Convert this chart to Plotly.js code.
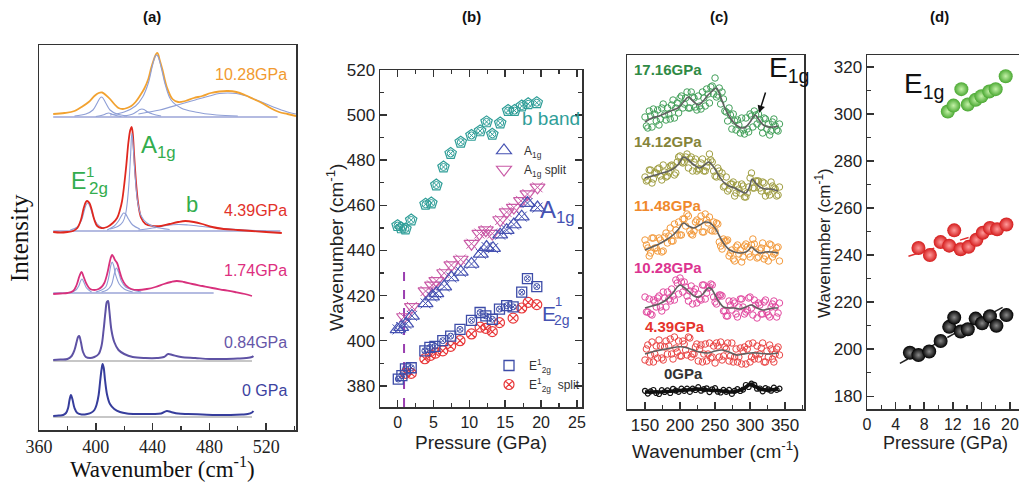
<!DOCTYPE html>
<html><head><meta charset="utf-8">
<script src="https://cdn.plot.ly/plotly-3.0.1.min.js"></script>
<style>html,body{margin:0;padding:0;overflow:hidden;background:#fff}#chart{width:1030px;height:485px}</style>
</head><body><div id="chart"></div>
<script>
// ---------- Panel (a): Raman spectra (offset, heights in arbitrary units) ----------
const a0X = [370,374,377,379,380.5,381.5,382.5,383.5,385,387,390,394,397,399,400.5,402,403,404,404.8,405.6,406.5,408,410,413,417,422,430,440,446,450,453,458,465,475,485,495,503,507,510,511];
const a0Y = [14,14.5,15,17,22,30,35,31,22,17,15.5,16,17.5,20,25,35,48,60,66,62,50,35,26,21,18,16.5,16,16,16.5,19,18,16.5,16,15.5,15,15,15.5,16,17.5,19];
const a084X = [370,375,380,383,385,386.5,387.5,388.3,389.5,391,393,396,399,402,404,405.5,406.8,407.8,408.6,409.5,411,413,416,420,426,435,443,448,451,454,460,470,480,490,500,506,510,511];
const a084Y = [70,70.5,71,74,80,88,93,94,88,78,73,72,73,76,84,100,118,128,129,120,100,88,80,76,73,72,72,73,76,75,73,72,71,71,71.5,72,73,74];
const a174X = [370,375,380,384,386.5,388.5,390,391.5,393.5,396,399,402,404,406,408,409.5,410.5,411.5,412.5,413.5,415,416.5,418.5,421,425,430,436,442,448,453,457,462,468,475,482,490,498,505,510];
const a174Y = [136,136.5,137,139,145,154,158,153,146,141,140,141,143,147,156,166,172,175,173,170,167,160,151,145,141,140,141,143,146,148,149,148,146,144,142,140,138,136,134];
const a439X = [370,375,380,384,387,389.5,391.5,393,394,395.5,397,399,401,404,408,412,415,417,418.5,420,421.5,423,424.3,425.2,426,427,428.5,430,432,435,440,446,452,458,463,469,475,482,490,500,510,520,531];
const a439Y = [198,197.5,198,199,202,210,222,228,229,227,221,210,204,202,203,207,212,220,229,245,265,288,300,303,297,275,245,225,212,206,204,204,206,208,209,208,206,203,201,200,199,198,197];
const a1028X = [370,378,385,390,395,399,402,404.5,407,410,413,416,419,422,425,428,431,434,437,439,441,442.5,443.5,445,447,450,454,458,463,469,475,481,487,493,499,505,511,517,523,529,535,541];
const a1028Y = [316,317,319,323,328,334,337,337.5,335,331,326,322,321,322,324,328,334,341,351,362,371,376,377,370,360,343,331,328,329,332,334,337,338.5,339,338,335,331,327,322,318,316,314];
// fitted components (thin blue)
const fOr1X = [385,393,398,401,403,404,405,407,410,415,422];
const fOr1Y = [314,316,320,327,332,333,332,327,320,316,314];
const fOr2X = [400,405,407.5,409,410.5,413,418];
const fOr2Y = [313.5,315,316.5,317,316.5,315,313.5];
const fOr3X = [420,426,429,431,432.5,434,436,440,446];
const fOr3Y = [314,316,318.5,320.5,321,320.5,318.5,316,314];
const fOr4X = [410,420,428,433,437,440,442,443,444,446,449,453,460,470,485,500];
const fOr4Y = [315,318,324,333,347,365,374,375,373,363,345,330,322,318,315,314];
const fOr5X = [430,445,460,470,480,487,493,499,506,515,525,535,541];
const fOr5Y = [316,320,326,330,334,336.5,337,336.5,334,329,323,318,316];
const fOrBaseX = [370,528];
const fOrBaseY = [313,313];
const fRd1X = [382,387,390,392,393.5,394.5,396,398,401,406];
const fRd1Y = [200,203,210,220,226,227,223,214,206,201];
const fRd2X = [408,413,416,418,419.5,421,423,426,431];
const fRd2Y = [200,204,209,214,217,216,211,205,201];
const fRd3X = [410,416,419,421,423,424.5,425.4,426.3,427.5,429.5,432,436,442,452];
const fRd3Y = [201,204,208,216,240,275,297,285,258,228,214,207,203,200.5];
const fRd4X = [430,440,450,458,465,475,490,505,520];
const fRd4Y = [200,202,204.5,205.5,205,203.5,201.5,200,199];
const fRdBaseX = [370,530];
const fRdBaseY = [199,199];
const fMg1X = [382,386,388,389.3,390.3,391.5,393.5,397];
const fMg1Y = [137.5,140,144,149,151,148,142,138];
const fMg2X = [400,404,407,409,410.5,411.5,412.5,414,416.5,420,426];
const fMg2Y = [138,140,143,152,164,168,165,155,146,141,138];
const fMg3X = [404,408,411,413,414.5,416,418,421,426,432];
const fMg3Y = [138,140,145,156,162,158,149,143,140,138];
const fMgBaseX = [370,483];
const fMgBaseY = [137,137];
const gBase084X = [370,510];
const gBase084Y = [69,69];
const gBase0X = [370,510];
const gBase0Y = [13,13];

// ---------- Panel (b): peak positions vs pressure ----------
const bBandP = [0,0.5,1.1,1.9,3.9,4.7,5.4,6.4,7.4,8.8,10.3,11.5,12.4,13.2,14.3,15.4,16.3,17.3,18.2,19.4];
const bBandW = [451,450,449.5,453.5,460.5,461,469,477,483,488,491,493,497,491.5,496.5,502,502,504,505,505.5];
const a1gP = [0,0.5,1.2,2.0,3.9,4.8,5.4,6.5,7.5,8.8,10.3,11.6,12.4,13.3,14.3,15.2,16.2,17.3,18.1,19.5];
const a1gW = [405,406,407.5,411,416.5,419.5,421,424,428,430.5,434,438.5,441.5,441,447,449,451.5,455,461,459];
const a1gSplitP = [0.9,2.0,3.9,4.8,5.4,6.5,7.5,8.8,10.3,11.4,12.3,13.2,14.3,15.2,16.2,17.2,18.1,19.5];
const a1gSplitW = [410.5,415,422,424.5,426.5,430,433.5,436,443,447.5,449,447.5,453.5,457,459,462,465,468];
const e2gP = [0.1,0.6,1.1,1.9,3.8,4.5,5.2,6.3,7.4,8.7,10.3,11.5,12.3,13.2,14.2,15.2,16.1,17.3,18.1,19.4];
const e2gW = [383,384.5,387.5,388,395.5,397,397.5,400,402,405,409,412.5,411,409.5,414,415.5,415,421.5,427.5,424];
const e2gSplitP = [1.1,1.9,3.8,4.6,5.3,6.3,7.4,8.7,10.3,11.5,12.3,13.2,14.2,16.1,17.3,18.2,19.4];
const e2gSplitW = [385.5,385.5,392,393.5,394.5,395.5,397.5,400,403,406,405.5,404,408,410,414.5,417,416];
const dashP = [0.9,0.9];
const dashW = [370.6,433];

// ---------- Panel (c): low-frequency spectra ----------
const cWn = [150,154,158,162,166,170,174,178,182,186,190,194,198,202,206,210,214,218,222,226,230,234,238,242,246,250,254,258,262,266,270,274,278,282,286,290,294,298,302,306,310,314,318,322,326,330,334,338,342];
const cWn2 = [152,156,160,164,168,172,176,180,184,188,192,196,200,204,208,212,216,220,224,228,232,236,240,244,248,252,256,260,264,268,272,276,280,284,288,292,296,300,304,308,312,316,320,324,328,332,336,340];
const c17Pts = [292,281,293,300,288,284,301,294,301,290,309,301,296,313,305,317,301,312,302,313,300,311,320,306,323,331,314,305,310,297,301,280,288,289,276,279,291,277,293,298,285,289,276,290,285,278,290,279,285];
const c17Pts2 = [283,298,282,295,299,290,305,289,295,304,291,306,311,301,311,301,317,311,299,303,317,303,315,322,315,312,321,317,298,288,294,295,279,284,291,275,280,295,282,294,295,282,291,280,274,287,283,278];
const c14Pts = [232,229,239,230,236,241,229,237,233,243,243,236,252,247,247,255,250,238,250,240,246,238,242,255,247,233,241,232,222,232,220,225,213,224,216,223,212,222,236,221,228,221,227,213,217,227,221,213,222];
const c14Pts2 = [228,239,226,236,240,233,244,232,237,244,234,247,253,246,252,241,252,247,238,240,250,238,247,249,238,232,238,236,223,218,225,227,216,220,225,212,216,231,221,228,228,218,226,218,214,223,220,214];
const c11Pts = [169,161,156,171,161,171,157,172,166,181,168,179,187,174,190,195,178,174,187,182,193,177,189,192,178,178,185,163,170,168,153,159,148,164,159,152,165,155,164,165,151,159,166,153,148,164,155,161,148];
const c11Pts2 = [164,153,171,161,158,169,158,176,173,168,185,174,174,190,183,193,175,178,189,187,177,195,186,179,187,186,167,160,168,169,156,150,162,155,147,163,162,152,170,157,152,161,150,160,165,152,156,162];
const c10Pts = [112,97,95,109,102,113,98,111,117,108,113,129,115,127,127,113,118,105,120,115,109,124,116,122,124,107,112,114,98,93,108,99,106,92,110,102,97,111,101,109,91,104,95,109,94,102,108,92,106];
const c10Pts2 = [97,110,94,107,111,102,117,102,110,120,109,126,131,117,122,108,123,117,106,110,124,110,121,125,112,105,114,113,98,93,104,108,95,102,110,95,99,112,94,104,106,95,107,97,92,105,102,96];
const c4Pts = [49,64,54,47,63,69,51,62,55,70,50,61,68,53,65,54,71,55,62,48,64,55,48,66,52,46,63,67,53,60,48,66,52,47,61,58,45,65,52,50,63,55,66,47,52,60,47,60,54];
const c4Pts2 = [60,47,67,55,51,63,49,68,63,55,72,57,53,68,59,72,52,55,65,60,47,65,55,51,63,66,52,49,62,66,53,47,60,52,45,62,60,47,66,54,50,61,47,58,64,50,55,62];
const c0Pts = [18.2,15.4,17.6,19,16,15,18.8,17,18.6,16,20.2,18.4,17.2,20.4,18.2,20.4,17.1,20.3,19,21.9,18.3,19.8,20.7,16.9,19.7,20.9,17.3,16.5,19.1,17.2,19.1,15.1,18.2,19.8,18,19.4,24,22,25.4,24.2,20.3,20.5,17.7,20.9,19.6,18.3,21.4,19.1,20.4];
const c17LX = [150,160,170,180,190,197,205,212,220,226,233,240,246,252,258,264,270,276,282,288,294,300,307,313,319,326,333,340];
const c17LY = [287,291,293,296,299,301,307,312,307,304,308,314,318,321,312,301,293,287,283,281,282,287,294,289,284,282,282,283];
const c14LX = [150,160,170,180,190,198,205,212,220,228,235,241,248,255,262,270,278,286,294,299,303,308,314,322,330,340];
const c14LY = [231,233,235,237,240,245,252,249,244,241,244,247,242,234,227,223,221,218,216,222,230,226,222,220,220,218];
const c11LX = [150,160,170,180,190,198,205,212,220,228,236,243,250,257,264,271,278,286,294,298,302,307,314,322,330,340];
const c11LY = [159,162,165,169,174,180,186,183,181,184,187,186,181,172,164,159,157,156,157,159,162,159,156,157,157,156];
const c10LX = [150,160,170,180,190,196,200,205,212,220,227,234,240,245,250,256,262,270,278,286,294,302,310,318,326,334,340];
const c10LY = [101,103,105,109,116,122,124,122,118,113,112,116,121,120,114,107,102,101,101,100,102,104,101,99,100,101,101];
const c4LX = [150,165,180,195,205,215,228,240,250,260,270,280,290,300,310,325,340];
const c4LY = [55,58,60,62,62,60,57,56,58,59,57,54,55,56,56,55,56];
const c0LX = [150,170,190,210,225,240,260,275,290,296,301,306,315,325,340];
const c0LY = [17,17,18,19,20,19,18,17,20,23,25,23,20,19,20];

// ---------- Panel (d): E1g mode positions ----------
const dGreenP = [11.3,12.1,13.2,14.1,15.2,16.0,17.1,18.0,19.4];
const dGreenW = [301,303.5,310.5,304,306,307.5,309.5,310.5,316];
const dRedP = [7.2,8.8,10.3,11.5,12.2,13.1,14.2,15.3,16.2,17.2,18.2,19.5];
const dRedW = [243,240,245.5,244,250.5,242.5,243.5,246.5,249.5,251.5,251,253];
const dBlackP = [6.0,7.2,8.7,10.3,11.5,12.2,13.1,14.1,15.2,16.1,17.2,18.1,19.5];
const dBlackW = [198.5,197.5,199,203.5,209.5,213.5,207.5,208.5,213,211,214,210,214.5];
const dFitRedP = [5.8,20];
const dFitRedW = [239.5,253];
const dFitBlackP = [4.6,20];
const dFitBlackW = [194,219.5];

// ---------- layout helpers ----------
const W = 1030, H = 485;
const px = x => x / W;
const py = y => 1 - y / H;
const SANS = 'Liberation Sans, Arial, sans-serif';
const SERIF = 'Liberation Serif, Times New Roman, serif';

const traces = [];
function line(x, y, color, width, ax, extra) {
  traces.push(Object.assign({type:'scatter', mode:'lines', x:x, y:y, xaxis:ax[0], yaxis:ax[1],
    line:{color:color, width:width}, showlegend:false, hoverinfo:'skip'}, extra || {}));
}
const A = ['x','y'], B = ['x2','y2'], C = ['x3','y3'], D = ['x4','y4'];
const fitC = '#8f9fd6', baseC = '#6a78c4';

// Panel (a)
line(gBase0X, gBase0Y, '#b5b5b5', 1.5, A);
line(gBase084X, gBase084Y, '#b5b5b5', 1.5, A);
line(fMgBaseX, fMgBaseY, baseC, 1.2, A);
line(fRdBaseX, fRdBaseY, baseC, 1.2, A);
line(fOrBaseX, fOrBaseY, baseC, 1.2, A);
[[fMg1X,fMg1Y],[fMg2X,fMg2Y],[fMg3X,fMg3Y],[fRd1X,fRd1Y],[fRd2X,fRd2Y],[fRd4X,fRd4Y],
 [fOr1X,fOr1Y],[fOr2X,fOr2Y],[fOr3X,fOr3Y],[fOr5X,fOr5Y]].forEach(p => line(p[0], p[1], fitC, 1.1, A, {line:{color:fitC,width:1.1,shape:'spline'}}));
line(a0X, a0Y, '#363d9c', 2, A, {line:{color:'#363d9c',width:2,shape:'spline'}});
line(a084X, a084Y, '#5e52a4', 2, A, {line:{color:'#5e52a4',width:2,shape:'spline'}});
line(a174X, a174Y, '#d8307c', 1.8, A, {line:{color:'#d8307c',width:1.8,shape:'spline'}});
line(a439X, a439Y, '#e0281f', 1.8, A, {line:{color:'#e0281f',width:1.8,shape:'spline'}});
line(a1028X, a1028Y, '#f2a230', 1.8, A, {line:{color:'#f2a230',width:1.8,shape:'spline'}});
line(fRd3X, fRd3Y, fitC, 1.1, A, {line:{color:fitC,width:1.1,shape:'spline'}});
line(fOr4X, fOr4Y, fitC, 1.1, A, {line:{color:fitC,width:1.1,shape:'spline'}});

// Panel (b)
function pts(x, y, ax, symbol, size, color, lw, extra) {
  traces.push(Object.assign({type:'scatter', mode:'markers', x:x, y:y, xaxis:ax[0], yaxis:ax[1],
    marker:{symbol:symbol, size:size, color:color, line:{color:color, width:lw}}, showlegend:false, hoverinfo:'skip'}, extra || {}));
}
line(dashP, dashW, '#9a3fb0', 2, B, {line:{color:'#9a3fb0', width:2, dash:'dash'}});
pts(bBandP, bBandW, B, 'pentagon-open', 12, '#2f9e98', 1.2);
pts(bBandP, bBandW, B, 'circle-x-open', 7, '#2f9e98', 1);
pts(a1gSplitP, a1gSplitW, B, 'triangle-down-open', 13, '#c95aa6', 1.2, {showlegend:true, name:'A<sub>1g</sub> split', legend:'legend'});
pts(a1gSplitP, a1gSplitW, B, 'x-thin-open', 10, '#c95aa6', 1);
pts(a1gP, a1gW, B, 'triangle-up-open', 13, '#4652b2', 1.2, {showlegend:true, name:'A<sub>1g</sub>', legend:'legend'});
pts(a1gP, a1gW, B, 'x-thin-open', 10, '#4652b2', 1);
pts(e2gSplitP, e2gSplitW, B, 'circle-x-open', 10, '#e8383a', 1.2, {showlegend:true, name:'E<sup>1</sup><sub>2g</sub>  split', legend:'legend2'});
pts(e2gP, e2gW, B, 'square-open', 10, '#3d4ca8', 1.3, {showlegend:true, name:'E<sup>1</sup><sub>2g</sub>', legend:'legend2'});
pts(e2gP, e2gW, B, 'circle-x-open', 6, '#3d4ca8', 1);

// Panel (c)
const cSets = [
  [c17Pts, c17Pts2, c17LX, c17LY, '#43a05a'],
  [c14Pts, c14Pts2, c14LX, c14LY, '#a09e42'],
  [c11Pts, c11Pts2, c11LX, c11LY, '#f39a3c'],
  [c10Pts, c10Pts2, c10LX, c10LY, '#e24aa0'],
  [c4Pts, c4Pts2, c4LX, c4LY, '#ea4444']
];
cSets.forEach(s => {
  pts(cWn, s[0], C, 'circle-open', 6.5, s[4], 1);
  pts(cWn2, s[1], C, 'circle-open', 6.5, s[4], 1);
  line(s[2], s[3], '#5f5f5f', 1.6, C, {line:{color:'#5f5f5f', width:1.6, shape:'spline'}});
});
line(c0LX, c0LY, '#111', 3, C, {line:{color:'#111', width:3.5, shape:'spline'}});
pts(cWn, c0Pts, C, 'circle-open', 5, '#111', 1.2);

// Panel (d)
line(dFitBlackP, dFitBlackW, '#222', 1.5, D, {line:{color:'#222', width:1.5, dash:'dash'}});
line(dFitRedP, dFitRedW, '#e03030', 1.5, D, {line:{color:'#e03030', width:1.5, dash:'dash'}});
function balls(x, y, color, hi) {
  traces.push({type:'scatter', mode:'markers', x:x, y:y, xaxis:'x4', yaxis:'y4', showlegend:false, hoverinfo:'skip',
    marker:{symbol:'circle', size:14, color:color, line:{width:0}, gradient:{type:'radial', color:hi}}});
}
balls(dBlackP, dBlackW, '#000000', '#8a8a8a');
balls(dRedP, dRedW, '#d41c1c', '#ff9a9a');
balls(dGreenP, dGreenW, '#4aa832', '#c4f2a8');

// ---------- axes ----------
const frame = {showline:true, linecolor:'#333', linewidth:1.5, mirror:true, showgrid:false, zeroline:false};
function xax(dom, rng, dtick, mdt, font, extra) {
  return Object.assign({}, frame, {domain:dom, range:rng, tickmode:'linear', dtick:dtick, ticks:'inside', ticklen:7,
    tickwidth:1.5, tickcolor:'#333', minor:{ticks:'inside', ticklen:4, dtick:mdt, tickcolor:'#333', tickwidth:1.3},
    tickfont:font, fixedrange:true}, extra || {});
}
const sansTick = {family:SANS, size:17, color:'#222'};
const sansTickX = {family:SANS, size:16, color:'#222'};

const layout = {
  width: W, height: H, margin:{l:0, r:0, t:0, b:0},
  paper_bgcolor:'#fff', plot_bgcolor:'rgba(0,0,0,0)', font:{family:SANS, color:'#222'},
  xaxis: xax([px(39), px(296)], [360, 541], 40, 20, {family:SERIF, size:18, color:'#222'}, {anchor:'y', tick0:360}),
  yaxis: Object.assign({}, frame, {domain:[py(430), py(45)], range:[0, 385], showticklabels:false, ticks:'', anchor:'x'}),
  xaxis2: xax([px(380), px(582)], [-2.45, 25.7], 5, 2.5, sansTickX, {anchor:'y2', tick0:0, mirror:'allticks'}),
  yaxis2: xax([py(407), py(70)], [370.6, 520], 20, 10, sansTick, {anchor:'x2', tick0:380, mirror:'allticks'}),
  xaxis3: xax([px(627), px(804)], [124.3, 377], 50, 25, sansTick, {anchor:'y3', tick0:150}),
  yaxis3: Object.assign({}, frame, {domain:[py(409), py(55)], range:[0, 354], showticklabels:false, ticks:'', anchor:'x3'}),
  xaxis4: xax([px(867), 1], [0, 22.8], 4, 2, sansTickX, {anchor:'y4', tick0:0}),
  yaxis4: xax([py(409), py(55)], [174.6, 325], 20, 10, sansTick, {anchor:'x4', tick0:180}),
  legend: {x:px(484), y:py(136), xanchor:'left', yanchor:'top', bgcolor:'rgba(0,0,0,0)', font:{family:SANS, size:12, color:'#333'},
           itemwidth:30, tracegroupgap:0, traceorder:'reversed'},
  legend2: {x:px(489), y:py(351), xanchor:'left', yanchor:'top', bgcolor:'rgba(0,0,0,0)', font:{family:SANS, size:12, color:'#333'},
           itemwidth:30, tracegroupgap:0, traceorder:'reversed'},
  showlegend: true,
  annotations: []
};

function ann(text, x, y, size, color, extra) {
  layout.annotations.push(Object.assign({text:text, x:px(x), y:py(y), xref:'paper', yref:'paper', showarrow:false,
    font:{family:SANS, size:size, color:color}, xanchor:'center', yanchor:'middle'}, extra || {}));
}
// panel titles
ann('<b>(a)</b>', 152, 17, 15, '#111');
ann('<b>(b)</b>', 471, 17, 15, '#111');
ann('<b>(c)</b>', 719, 17, 15, '#111');
ann('<b>(d)</b>', 939, 17, 15, '#111');
// axis titles
ann('Intensity', 19, 238, 25, '#111', {textangle:-90, font:{family:SERIF, size:25, color:'#111'}});
ann('Wavenumber (cm<sup>-1</sup>)', 162, 467, 23, '#111', {font:{family:SERIF, size:23, color:'#111'}});
ann('Wavenumber (cm<sup>-1</sup>)', 335, 248, 19, '#222', {textangle:-90});
ann('Pressure (GPa)', 481, 442, 19, '#222');
ann('Wavenumber (cm<sup>-1</sup>)', 715, 450, 19, '#222');
ann('Wavenumber (cm<sup>-1</sup>)', 823, 243, 17, '#222', {textangle:-90});
ann('Pressure (GPa)', 945, 443, 18, '#222');
// panel (a) labels
const gA = '#33ad4e';
ann('10.28GPa', 289, 74, 16, '#f19a30', {xanchor:'right'});
ann('4.39GPa', 289, 210, 16, '#e2312a', {xanchor:'right'});
ann('1.74GPa', 289, 270, 16, '#dd2f80', {xanchor:'right'});
ann('0.84GPa', 289, 342, 16, '#6656a8', {xanchor:'right'});
ann('0 GPa', 289, 390, 16, '#3c42a0', {xanchor:'right'});
ann('E', 78, 181, 23, gA);
ann('1', 90, 171, 15, gA);
ann('2g', 98, 189, 17, gA);
ann('A<sub>1g</sub>', 158, 146, 24, gA);
ann('b', 192, 204, 22, gA);
// panel (b) labels
ann('b band', 551, 118, 19, '#2f9e98');
ann('A<sub>1g</sub>', 557, 211, 24, '#4652b2');
ann('E', 549, 313, 21, '#4652b2');
ann('1', 558, 301, 13, '#4652b2');
ann('2g', 562, 320, 14, '#4652b2');
// panel (c) labels
ann('<b>17.16GPa</b>', 632, 70, 15, '#2f8a45', {xanchor:'left'});
ann('<b>14.12GPa</b>', 632, 141, 15, '#85843a', {xanchor:'left'});
ann('<b>11.48GPa</b>', 632, 205, 15, '#f0892c', {xanchor:'left'});
ann('<b>10.28GPa</b>', 632, 267, 15, '#dc3490', {xanchor:'left'});
ann('<b>4.39GPa</b>', 643, 326, 15, '#e5342c', {xanchor:'left'});
ann('<b>0GPa</b>', 662, 373, 15, '#333', {xanchor:'left'});
ann('E<sub>1g</sub>', 789, 70, 28, '#111');
layout.annotations.push({text:'', x:px(759), y:py(113), xref:'paper', yref:'paper', showarrow:true, arrowhead:2, arrowsize:1,
  arrowwidth:1.5, arrowcolor:'#111', ax:7, ay:-22});
// panel (d) label
ann('E<sub>1g</sub>', 924, 85, 28, '#111');

Plotly.newPlot('chart', traces, layout, {staticPlot:true, displayModeBar:false});
</script></body></html>
